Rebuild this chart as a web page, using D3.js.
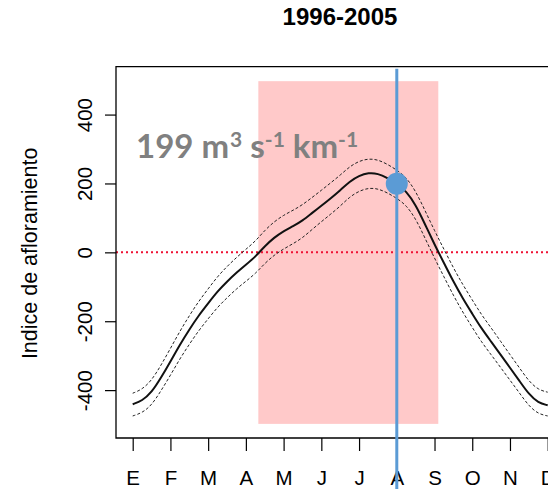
<!DOCTYPE html>
<html>
<head>
<meta charset="utf-8">
<script src="https://cdn.jsdelivr.net/npm/d3@7"></script>
<style>
  html, body { margin: 0; padding: 0; background: #fff; }
  svg { display: block; }
</style>
</head>
<body>
<svg id="chart" width="548" height="489"></svg>
<script>
// Month labels (Spanish initials) and tick positions
const monthLabels = ["E", "F", "M", "A", "M", "J", "J", "A", "S", "O", "N", "D"];
const monthTicks = [1, 2, 3, 4, 5, 6, 7, 8, 9, 10, 11, 12];
const yTicks = [-400, -200, 0, 200, 400];

// Seasonal upwelling index: time in months (1 = January)
const months = [1.00, 1.25, 1.50, 1.75, 2.00, 2.25, 2.50, 2.75, 3.00, 3.25, 3.50, 3.75,
                4.00, 4.25, 4.50, 4.75, 5.00, 5.25, 5.50, 5.75, 6.00, 6.25, 6.50, 6.75,
                7.00, 7.25, 7.50, 7.75, 8.00, 8.25, 8.50, 8.75, 9.00, 9.25, 9.50, 9.75,
                10.00, 10.25, 10.50, 10.75, 11.00, 11.25, 11.50, 11.75, 12.00];
const meanIndex = [-441, -431, -407, -364, -317, -268, -224, -183, -148, -113, -85, -59,
                   -36, -13, 18, 43, 62, 76, 92, 114, 135, 157, 180, 206,
                   223, 231, 229, 216, 199, 178, 138, 81, 23, -31, -85, -134,
                   -178, -222, -259, -297, -335, -373, -412, -437, -444];
const upperIndex = [-409, -398, -372, -328, -279, -229, -184, -142, -106, -70, -41, -15,
                    9, 32, 64, 89, 108, 122, 138, 159, 180, 202, 224, 249,
                    265, 272, 269, 256, 239, 218, 178, 121, 63, 9, -45, -94,
                    -138, -182, -219, -258, -297, -335, -374, -399, -406];
const lowerIndex = [-475, -466, -444, -402, -357, -309, -267, -227, -193, -159, -132, -106,
                    -84, -62, -32, -8, 10, 25, 42, 66, 89, 111, 134, 161,
                    178, 187, 185, 173, 157, 137, 98, 41, -17, -71, -125, -174,
                    -218, -261, -297, -334, -371, -408, -446, -469, -475];

// Upwelling season band and highlighted month
const seasonStart = 4.33, seasonEnd = 9.1;
const bandLow = -498, bandHigh = 497;
const markMonth = 8;
const markValue = 199;

const svg = d3.select("#chart");
const plot = { left: 116, top: 66.7, bottom: 438 };

const x = d3.scaleLinear().domain([1, 12]).range([132.7, 547.7]);
const y = d3.scaleLinear().domain([-539, 539]).range([plot.bottom, plot.top]);

// Title
svg.append("text")
  .attr("x", 340).attr("y", 25)
  .attr("text-anchor", "middle")
  .attr("font-family", "Liberation Sans, Arial, sans-serif")
  .attr("font-weight", "bold")
  .attr("font-size", 24)
  .text("1996-2005");

// Upwelling season band
svg.append("rect")
  .attr("x", x(seasonStart))
  .attr("y", y(bandHigh))
  .attr("width", x(seasonEnd) - x(seasonStart))
  .attr("height", y(bandLow) - y(bandHigh))
  .attr("fill", "#ffc9c9");

// Zero reference line
svg.append("line")
  .attr("x1", plot.left).attr("x2", 548)
  .attr("y1", y(0)).attr("y2", y(0))
  .attr("stroke", "#ee1133")
  .attr("stroke-width", 2)
  .attr("stroke-dasharray", "2,3");

const series = months.map((m, i) => ({ m, mean: meanIndex[i], up: upperIndex[i], lo: lowerIndex[i] }));
const lineOf = key => d3.line().x(d => x(d.m)).y(d => y(d[key])).curve(d3.curveBasis);

svg.append("path").datum(series)
  .attr("d", lineOf("up"))
  .attr("fill", "none").attr("stroke", "#222").attr("stroke-width", 1)
  .attr("stroke-dasharray", "3,2");
svg.append("path").datum(series)
  .attr("d", lineOf("lo"))
  .attr("fill", "none").attr("stroke", "#222").attr("stroke-width", 1)
  .attr("stroke-dasharray", "3,2");
svg.append("path").datum(series)
  .attr("d", lineOf("mean"))
  .attr("fill", "none").attr("stroke", "#111").attr("stroke-width", 2);

// Plot frame (right side runs off the canvas)
svg.append("path")
  .attr("d", `M600,${plot.top}H${plot.left}V${plot.bottom}H600`)
  .attr("fill", "none").attr("stroke", "#000").attr("stroke-width", 1.3);

// X axis
const xAxis = svg.append("g")
  .attr("transform", `translate(0,${plot.bottom})`)
  .call(d3.axisBottom(x).tickValues(monthTicks)
    .tickFormat((d, i) => monthLabels[i]).tickSize(13).tickSizeOuter(0));
xAxis.select(".domain").remove();
xAxis.selectAll(".tick line").attr("stroke", "#000").attr("stroke-width", 1.2);
xAxis.selectAll(".tick text")
  .attr("y", 47).attr("dy", null)
  .attr("fill", "#000")
  .attr("font-family", "Liberation Sans, Arial, sans-serif")
  .attr("font-size", 20.5);

// Y axis
const yAxis = svg.append("g")
  .attr("transform", `translate(${plot.left},0)`)
  .call(d3.axisLeft(y).tickValues(yTicks).tickFormat(d => String(d))
    .tickSize(11).tickSizeOuter(0));
yAxis.select(".domain").remove();
yAxis.selectAll(".tick line").attr("stroke", "#000").attr("stroke-width", 1.2);
yAxis.selectAll(".tick text")
  .attr("x", 0).attr("dy", null)
  .attr("text-anchor", "middle")
  .attr("transform", "translate(-24,0) rotate(-90)")
  .attr("fill", "#000")
  .attr("font-family", "Liberation Sans, Arial, sans-serif")
  .attr("font-size", 20.5);

// Y axis title
svg.append("text")
  .attr("transform", `translate(37,${(y(400) + y(-400)) / 2 + 1}) rotate(-90)`)
  .attr("text-anchor", "middle")
  .attr("font-family", "Liberation Sans, Arial, sans-serif")
  .attr("font-size", 21.5)
  .text("Indice de afloramiento");

// Value label with units
const label = svg.append("text")
  .attr("x", 136).attr("y", 158)
  .attr("font-family", "Lato, 'Open Sans', sans-serif")
  .attr("font-weight", "bold")
  .attr("font-size", 33)
  .attr("fill", "#808080");
const supShift = 11;
label.append("tspan").text(markValue + " m");
label.append("tspan").attr("font-size", 21).attr("dy", -supShift).attr("dx", 1).text("3");
label.append("tspan").attr("dy", supShift).text(" s");
label.append("tspan").attr("font-size", 21).attr("dy", -supShift).text("-1");
label.append("tspan").attr("dy", supShift).text(" km");
label.append("tspan").attr("font-size", 21).attr("dy", -supShift).text("-1");

// Highlighted month: vertical line and marker
svg.append("line")
  .attr("x1", x(markMonth)).attr("x2", x(markMonth))
  .attr("y1", plot.top + 2).attr("y2", 489)
  .attr("stroke", "#5b9bd5").attr("stroke-width", 3);
svg.append("circle")
  .attr("cx", x(markMonth)).attr("cy", y(markValue))
  .attr("r", 11)
  .attr("fill", "#5b9bd5");
</script>
</body>
</html>
